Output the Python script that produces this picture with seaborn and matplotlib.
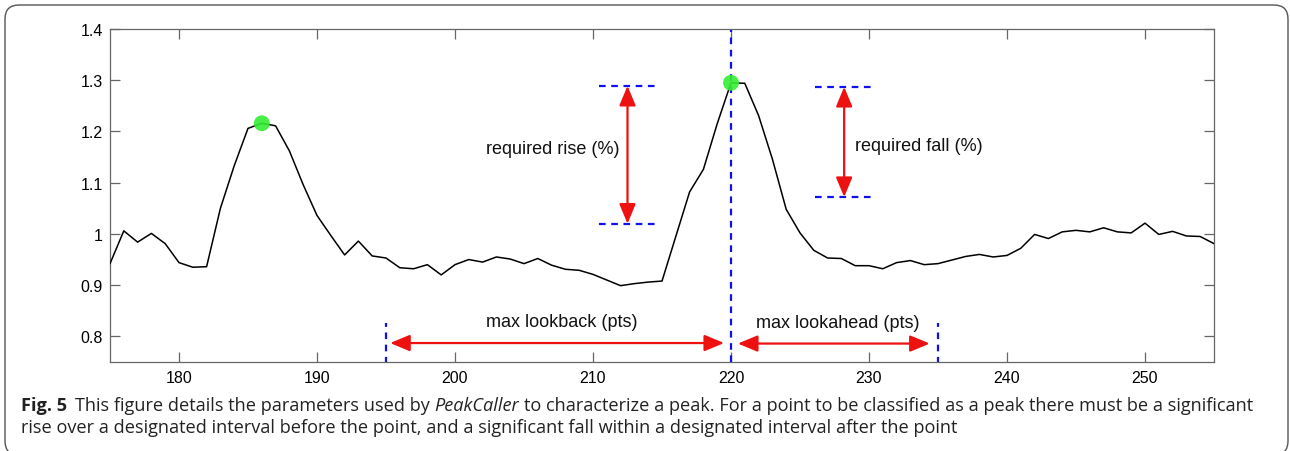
import numpy as np
import pandas as pd
import matplotlib
matplotlib.use("Agg")
import matplotlib.pyplot as plt
import matplotlib.transforms as mtransforms
from matplotlib.patches import FancyBboxPatch
import seaborn as sns

# ==========================================
# 1. DADOS
# ==========================================
x_points = list(range(175, 256))
y_values = [
    0.942, 1.006, 0.984, 1.001, 0.981, 0.944, 0.935, 0.936, 1.050, 1.133,   # 175-184
    1.206, 1.216, 1.211, 1.162, 1.096, 1.036, 0.997, 0.959, 0.986, 0.957,   # 185-194
    0.953, 0.934, 0.932, 0.940, 0.920, 0.940, 0.950, 0.945, 0.955, 0.951,   # 195-204
    0.942, 0.952, 0.939, 0.931, 0.929, 0.921, 0.910, 0.899, 0.903, 0.906,   # 205-214
    0.908, 0.995, 1.082, 1.126, 1.215, 1.295, 1.294, 1.231, 1.146, 1.048,   # 215-224
    1.002, 0.968, 0.953, 0.952, 0.938, 0.938, 0.932, 0.944, 0.948, 0.940,   # 225-234
    0.942, 0.949, 0.956, 0.960, 0.955, 0.958, 0.972, 0.999, 0.991, 1.004,   # 235-244
    1.007, 1.004, 1.012, 1.004, 1.002, 1.021, 0.999, 1.005, 0.996, 0.995,   # 245-254
    0.981,                                                                   # 255
]
peak_x = [186, 220]
current_peak = 220
lookback_pts = 25
lookahead_pts = 15
rise_levels = [1.289, 1.020]
fall_levels = [1.287, 1.072]

x_ticks = [180, 190, 200, 210, 220, 230, 240, 250]
y_ticks = [0.8, 0.9, 1.0, 1.1, 1.2, 1.3, 1.4]
y_ticklabels = ['0.8', '0.9', '1', '1.1', '1.2', '1.3', '1.4']

caption_line1 = [
    ("Fig. 5", "bold", "normal"),
    ("This figure details the parameters used by", "normal", "normal"),
    ("PeakCaller", "normal", "italic"),
    ("to characterize a peak. For a point to be classified as a peak there must be a significant",
     "normal", "normal"),
]
caption_line2 = ("rise over a designated interval before the point, and a significant fall "
                 "within a designated interval after the point")

df = pd.DataFrame({'x': x_points, 'y': y_values})
peaks = df[df['x'].isin(peak_x)]

# ==========================================
# 2. ESTILO
# ==========================================
sns.set_theme(style="ticks")
plt.rcParams['font.family'] = ['Liberation Sans', 'DejaVu Sans']

BLUE = '#1010ee'
RED = '#ee1111'
GREEN = '#33ee33'
SPINE = '#666666'

fig = plt.figure(figsize=(12.9, 4.52), dpi=100)
ax = fig.add_axes([110 / 1290, 89 / 452, 1104 / 1290, 333 / 452])

# ==========================================
# 3. PLOT
# ==========================================
sns.lineplot(data=df, x='x', y='y', color='black', linewidth=1.1, ax=ax, zorder=3)

ax.axvline(current_peak, color=BLUE, linestyle=(0, (3, 2.5)), linewidth=1.6, zorder=2)

start_x = current_peak - lookback_pts
end_x = current_peak + lookahead_pts
for xv in [start_x, end_x]:
    ax.plot([xv, xv], [0.70, 0.827], color=BLUE, linestyle=(0, (3, 2.5)), linewidth=1.6)

for lvl in rise_levels:
    ax.plot([210.4, 214.5], [lvl, lvl], color=BLUE, linestyle=(0, (3, 2.5)), linewidth=1.6)
for lvl in fall_levels:
    ax.plot([226.1, 230.2], [lvl, lvl], color=BLUE, linestyle=(0, (3, 2.5)), linewidth=1.6)

arrow_kw = dict(arrowstyle='<|-|>,head_length=0.6,head_width=0.25', color=RED,
                lw=1.6, mutation_scale=20, shrinkA=0, shrinkB=0)
ax.annotate('', xy=(212.5, rise_levels[0]), xytext=(212.5, rise_levels[1]), arrowprops=arrow_kw)
ax.annotate('', xy=(228.2, fall_levels[0]), xytext=(228.2, fall_levels[1]), arrowprops=arrow_kw)
ax.annotate('', xy=(start_x + 0.3, 0.787), xytext=(current_peak - 0.5, 0.787), arrowprops=arrow_kw)
ax.annotate('', xy=(current_peak + 0.5, 0.786), xytext=(end_x - 0.6, 0.786), arrowprops=arrow_kw)

txt_kw = dict(fontsize=13, color='#111111', va='center')
ax.text(211.9, 1.167, 'required rise (%)', ha='right', **txt_kw)
ax.text(229.0, 1.172, 'required fall (%)', ha='left', **txt_kw)
ax.text(207.7, 0.829, 'max lookback (pts)', ha='center', **txt_kw)
ax.text(227.7, 0.828, 'max lookahead (pts)', ha='center', **txt_kw)

sns.scatterplot(data=peaks, x='x', y='y', color=GREEN, s=130, edgecolor='none',
                alpha=0.9, ax=ax, zorder=4)

ax.set_xlim(175, 255)
ax.set_ylim(0.75, 1.4)
ax.set_xticks(x_ticks)
ax.set_yticks(y_ticks)
ax.set_yticklabels(y_ticklabels)
ax.set_xlabel('')
ax.set_ylabel('')
ax.tick_params(direction='in', length=7.5, width=0.9, color=SPINE, labelsize=11.5,
               top=True, right=True, labelcolor='#000000')
ax.tick_params(axis='x', pad=6)
ax.tick_params(axis='y', pad=5)
for sp in ax.spines.values():
    sp.set_visible(True)
    sp.set_color(SPINE)
    sp.set_linewidth(0.9)

# ==========================================
# 4. LEGENDA DA FIGURA (caption)
# ==========================================
ident = mtransforms.IdentityTransform()
renderer = fig.canvas.get_renderer()


def draw_pieces(pieces, x0, y, size):
    drawn = []
    x = x0
    for i, (txt, weight, style) in enumerate(pieces):
        t = fig.text(x, y, txt, fontsize=size, fontweight=weight, fontstyle=style,
                     family=['Open Sans', 'DejaVu Sans'], color='#222222',
                     transform=ident, va='baseline')
        drawn.append(t)
        w = t.get_window_extent(renderer).width
        gap = size * 0.26 * 100 / 72
        if i == 0:
            gap *= 1.6
        x += w + gap
    return drawn, x - x0


target_w = 1235
base = 12.0
items, width = draw_pieces(caption_line1, 21, 452 - 411.5, base)
for t in items:
    t.remove()
size = base * target_w / width
draw_pieces(caption_line1, 21, 452 - 411.5, size)
fig.text(21, 452 - 433, caption_line2, fontsize=size, family=['Open Sans', 'DejaVu Sans'],
         color='#222222', transform=ident, va='baseline')

# moldura arredondada
frame = FancyBboxPatch((5, -4), 1283, 450, boxstyle="round,pad=0,rounding_size=14",
                       transform=ident, fill=False, edgecolor='#555555', linewidth=1.0)
fig.patches.append(frame)

fig.savefig('out.png', dpi=100)
plt.close(fig)
